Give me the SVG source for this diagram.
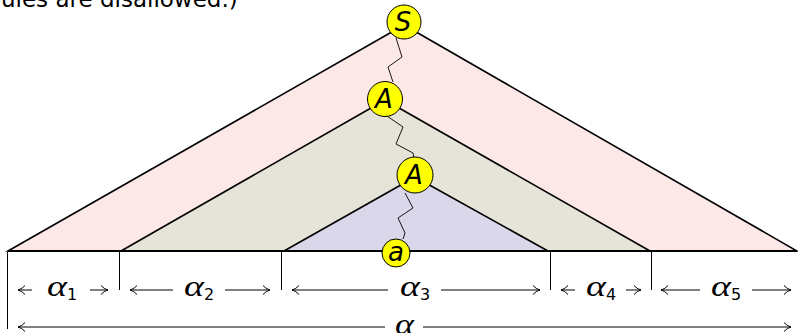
<svg xmlns="http://www.w3.org/2000/svg" width="798" height="333" viewBox="0 0 798 333">
<defs>
<style>
.tri{stroke:#000;stroke-width:1.6;stroke-linejoin:miter}
.node{fill:#ffff00;stroke:#000;stroke-width:1}
.lbl{font-family:"DejaVu Sans",sans-serif;font-style:italic;font-size:26px;text-anchor:middle}
.zz{fill:none;stroke:#000;stroke-width:0.9}
.dim{stroke:#000;stroke-width:1;fill:none}
.arr{stroke:#000;stroke-width:1;fill:none;marker-end:url(#ah)}
.al{font-family:"Liberation Serif",serif;font-style:italic;font-size:30px}
.sub{font-family:"DejaVu Sans",sans-serif;font-size:16px}
.cap{font-family:"DejaVu Sans",sans-serif;font-size:23px}
</style>
<marker id="ah" viewBox="0 0 12 12" refX="11" refY="6" markerWidth="12" markerHeight="12" markerUnits="userSpaceOnUse" orient="auto">
<path d="M4,1.5 Q7,5 11,6 Q7,7 4,10.5" fill="none" stroke="#000" stroke-width="1"/>
</marker>
</defs>
<rect width="798" height="333" fill="#fff"/>
<text class="cap" x="1" y="7">ules are disallowed.)</text>
<g id="triangles">
<polygon class="tri" points="8,251 404,25 797,251" fill="#fde8e8"/>
<polygon class="tri" points="121,251 385,100 650,251" fill="#e6e3d9"/>
<polygon class="tri" points="284,251 415,177 548,251" fill="#d9d7e9"/>
<line x1="8" y1="251" x2="797" y2="251" stroke="#000" stroke-width="2.2"/>
</g>
<g id="connectors">
<polyline class="zz" points="396,38 402,57 388,67 393,82"/>
<polyline class="zz" points="387,116 403,127 396,144 413,153 414,158"/>
<polyline class="zz" points="405,193 413,208 398,218 405,233 403,239"/>
</g>
<g id="node-S"><circle class="node" cx="404" cy="22" r="17"/><text class="lbl" x="403" y="31">S</text></g>
<g id="node-A1"><circle class="node" cx="385" cy="99" r="17.5"/><text class="lbl" x="384" y="108">A</text></g>
<g id="node-A2"><circle class="node" cx="415" cy="175" r="18"/><text class="lbl" x="414" y="184">A</text></g>
<g id="node-a"><circle class="node" cx="396" cy="253" r="14"/><text class="lbl" x="396" y="261">a</text></g>
<g id="dimensions">
<line class="dim" x1="7.5" y1="252" x2="7.5" y2="329"/>
<line class="dim" x1="119.5" y1="252" x2="119.5" y2="290"/>
<line class="dim" x1="281.5" y1="252" x2="281.5" y2="290"/>
<line class="dim" x1="550.5" y1="252" x2="550.5" y2="290"/>
<line class="dim" x1="651.5" y1="252" x2="651.5" y2="290"/>
<line class="arr" x1="32" y1="290" x2="18" y2="290"/>
<line class="arr" x1="90" y1="290" x2="108" y2="290"/>
<line class="arr" x1="173" y1="290" x2="130" y2="290"/>
<line class="arr" x1="225" y1="290" x2="270" y2="290"/>
<line class="arr" x1="388" y1="290" x2="292" y2="290"/>
<line class="arr" x1="441" y1="290" x2="540" y2="290"/>
<line class="arr" x1="575" y1="290" x2="561" y2="290"/>
<line class="arr" x1="626" y1="290" x2="641" y2="290"/>
<line class="arr" x1="700" y1="290" x2="661" y2="290"/>
<line class="arr" x1="752" y1="290" x2="791" y2="290"/>
<line class="arr" x1="385" y1="327" x2="18" y2="327"/>
<line class="arr" x1="423" y1="327" x2="791" y2="327"/>
<text class="al" x="47" y="296" textLength="20" lengthAdjust="spacingAndGlyphs">α</text><text class="sub" x="67" y="300">1</text>
<text class="al" x="184" y="296" textLength="20" lengthAdjust="spacingAndGlyphs">α</text><text class="sub" x="204" y="300">2</text>
<text class="al" x="400" y="296" textLength="20" lengthAdjust="spacingAndGlyphs">α</text><text class="sub" x="420" y="300">3</text>
<text class="al" x="586" y="296" textLength="20" lengthAdjust="spacingAndGlyphs">α</text><text class="sub" x="606" y="300">4</text>
<text class="al" x="711" y="296" textLength="20" lengthAdjust="spacingAndGlyphs">α</text><text class="sub" x="731" y="300">5</text>
<text class="al" x="395" y="334" textLength="19" lengthAdjust="spacingAndGlyphs">α</text>
</g>
</svg>
